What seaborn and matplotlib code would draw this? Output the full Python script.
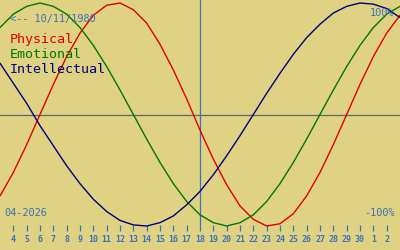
import matplotlib
matplotlib.use("Agg")
import matplotlib.pyplot as plt
import seaborn as sns
import pandas as pd

# ---- data ----
# day labels shown on the axis (April 4 .. May 2, 2026)
day_labels = [4, 5, 6, 7, 8, 9, 10, 11, 12, 13, 14, 15, 16, 17, 18, 19, 20,
              21, 22, 23, 24, 25, 26, 27, 28, 29, 30, 1, 2]
# sample positions: one per day from Apr 3 (-1) to May 3 (29)
day_pos = list(range(-1, 30))

physical = [-0.73, -0.52, -0.27, 0.00, 0.27, 0.52, 0.73, 0.89, 0.98, 1.00,
            0.94, 0.82, 0.63, 0.40, 0.14, -0.14, -0.40, -0.63, -0.82, -0.94,
            -1.00, -0.98, -0.89, -0.73, -0.52, -0.27, 0.00, 0.27, 0.52, 0.73,
            0.89]
emotional = [0.78, 0.90, 0.97, 1.00, 0.97, 0.90, 0.78, 0.62, 0.43, 0.22,
             0.00, -0.22, -0.43, -0.62, -0.78, -0.90, -0.97, -1.00, -0.97,
             -0.90, -0.78, -0.62, -0.43, -0.22, 0.00, 0.22, 0.43, 0.62, 0.78,
             0.90, 0.97]
intellectual = [0.46, 0.28, 0.10, -0.10, -0.28, -0.46, -0.62, -0.76, -0.87,
                -0.95, -0.99, -1.00, -0.97, -0.91, -0.81, -0.69, -0.54, -0.37,
                -0.19, 0.00, 0.19, 0.37, 0.54, 0.69, 0.81, 0.91, 0.97, 1.00,
                0.99, 0.95, 0.87]
series_names = ["Physical", "Emotional", "Intellectual"]
today_index = 14  # day 18
birth_text = "<-- 10/11/1980"
month_text = "04-2026"

# ---- styling ----
BG = "#e0d283"
BLUE = "#3c72b8"
colors = {"Physical": "#e00000", "Emotional": "#007800", "Intellectual": "#000080"}

sns.set_theme(style="white")
plt.rcParams["font.family"] = ["DejaVu Sans Mono", "DejaVu Sans"]

df = pd.concat([
    pd.DataFrame({"x": day_pos, "value": vals, "series": name})
    for name, vals in zip(series_names, [physical, emotional, intellectual])
])

fig = plt.figure(figsize=(4, 2.5), dpi=100, facecolor=BG)
ax = fig.add_axes([0, 19 / 250, 1, 231 / 250])
ax.set_facecolor(BG)

ax.axhline(0, color="#5a6670", lw=0.9, zorder=1)
ax.axvline(today_index, ymin=6 / 231, ymax=1, color=BLUE, lw=0.9, zorder=1)

sns.lineplot(data=df, x="x", y="value", hue="series", palette=colors,
             hue_order=series_names, legend=False, ax=ax, lw=1.0,
             estimator=None, sort=False, zorder=3)

ax.set_xlim(-1, 29)
ax.set_ylim(1.027 - 231 * 0.008969, 1.027)
for s in ax.spines.values():
    s.set_visible(False)
ax.set_xlabel("")
ax.set_ylabel("")
ax.set_yticks([])
ax.set_xticks(range(len(day_labels)))
ax.set_xticklabels([str(d) for d in day_labels])
ax.tick_params(axis="x", direction="in", length=4.3, width=0.9, color=BLUE,
               labelcolor=BLUE, labelsize=6.0, pad=2.6, bottom=True)
for lab in ax.get_xticklabels():
    lab.set_fontweight("bold")

def ftext(x, ybase, s, **kw):
    fig.text(x / 400, 1 - ybase / 250, s, va="baseline", **kw)

ftext(10, 21.7, birth_text, color=BLUE, fontsize=7.4)
for name, yb in zip(series_names, [43.3, 58.3, 73.3]):
    ftext(10, yb, name, color=colors[name], fontsize=9.6)
ftext(394, 16, "100%", color=BLUE, fontsize=7.4, ha="right")
ftext(395, 216, "-100%", color=BLUE, fontsize=7.4, ha="right")
ftext(4, 216, month_text, color=BLUE, fontsize=7.4)

fig.savefig("out.png", dpi=100, facecolor=BG)
